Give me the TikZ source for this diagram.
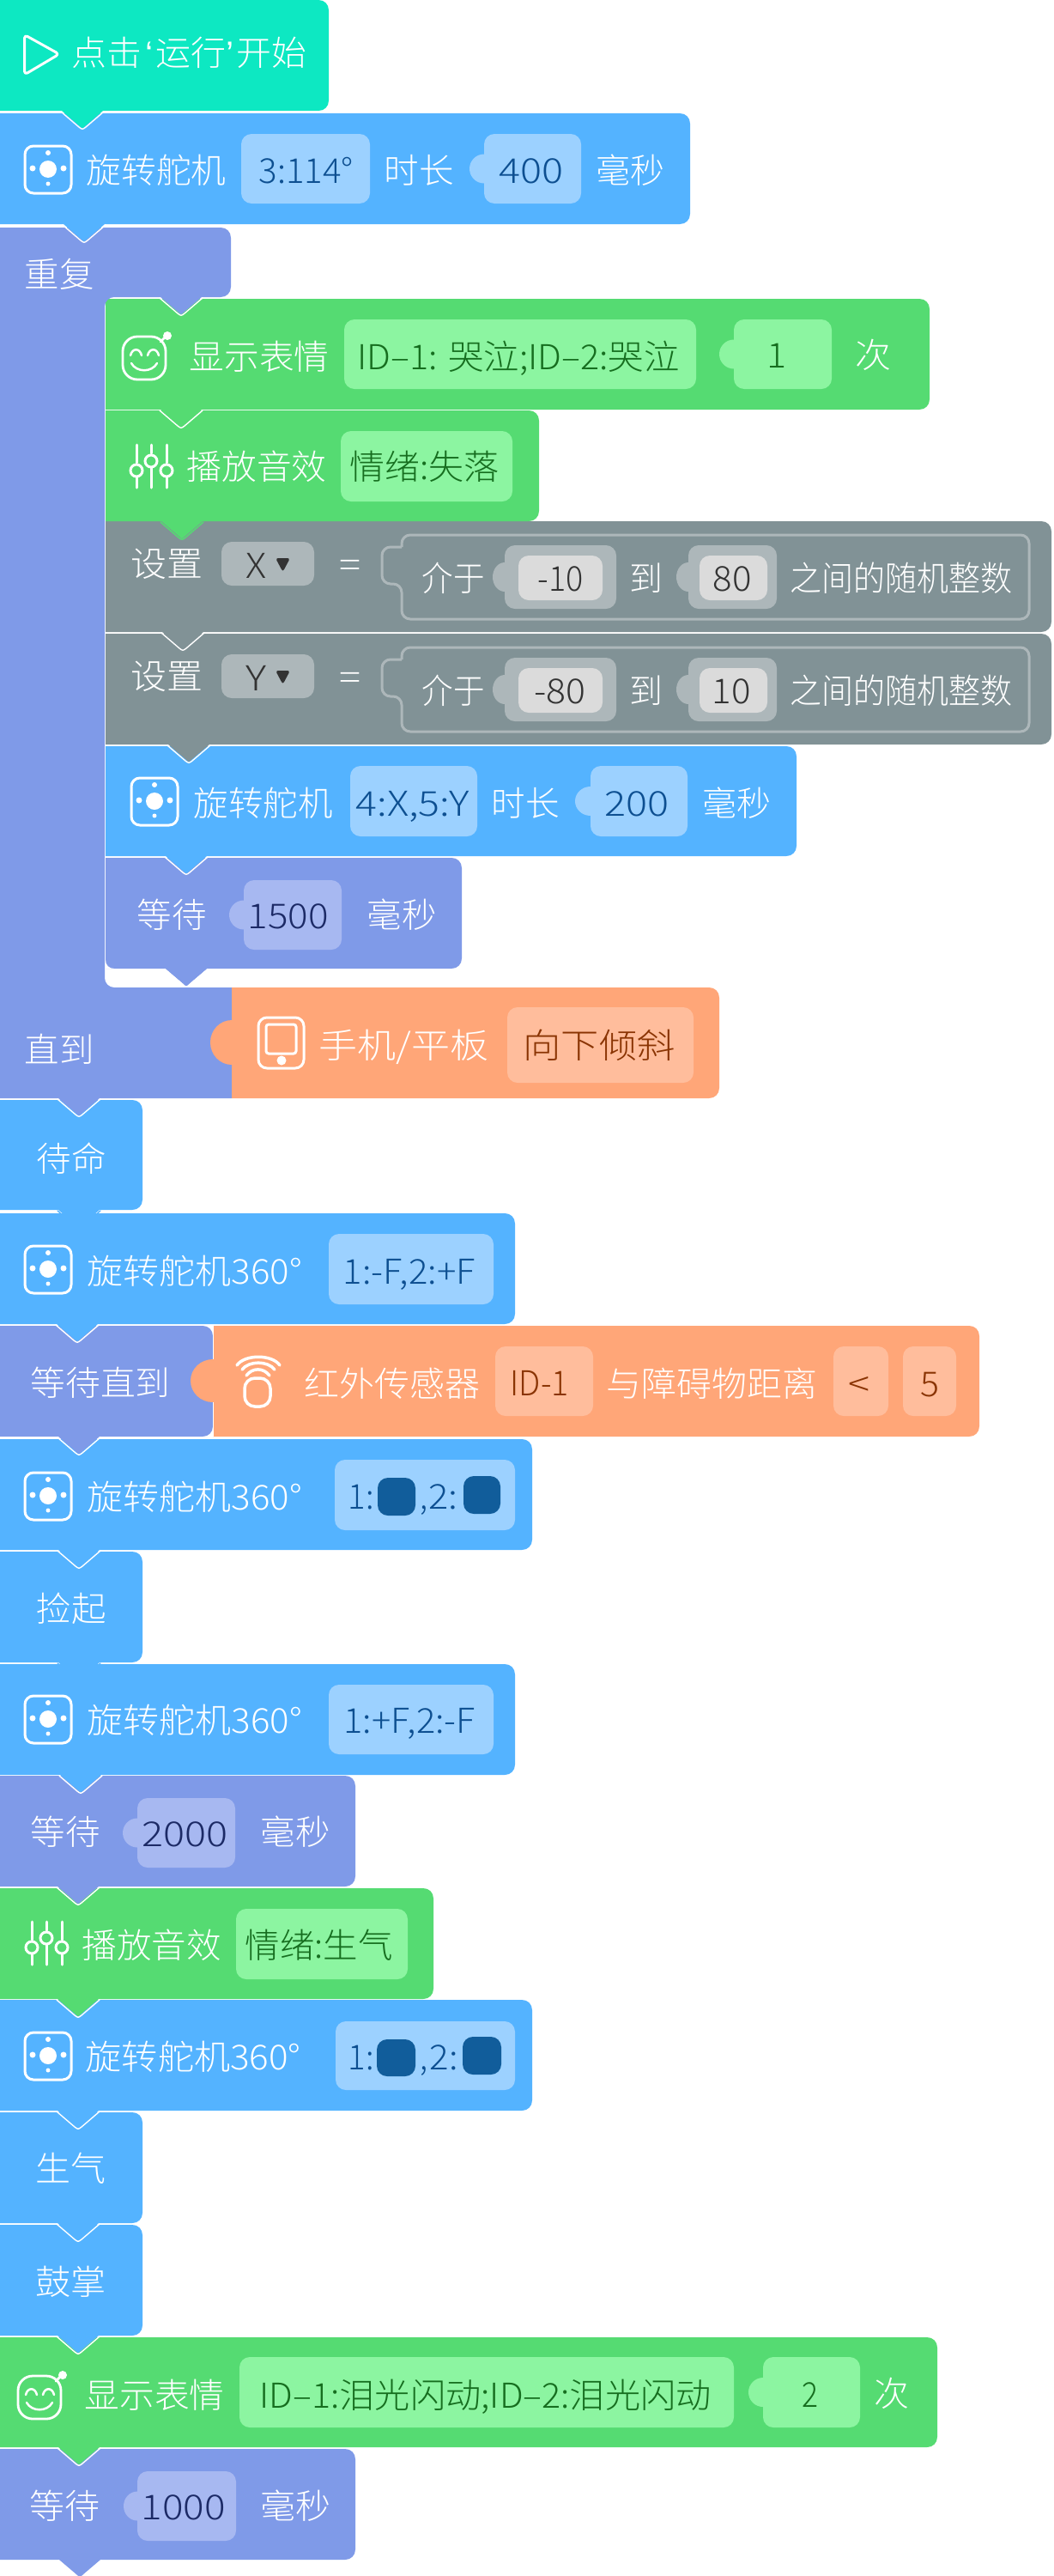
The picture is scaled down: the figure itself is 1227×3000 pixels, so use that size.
\documentclass[tikz,border=0pt]{standalone}
\usepackage{fontspec}
\setmainfont{Noto Sans CJK SC Light}
\newfontfamily\qfont{Liberation Sans}
\definecolor{teal}{HTML}{0DE8C2}
\definecolor{bl}{HTML}{54B3FF}\definecolor{blp}{HTML}{9CD1FF}\definecolor{blt}{HTML}{0D4F91}\definecolor{bls}{HTML}{115D9B}
\definecolor{gr}{HTML}{55DB72}\definecolor{grp}{HTML}{8CF5A1}\definecolor{grt}{HTML}{166E1F}
\definecolor{pu}{HTML}{7F9AE8}\definecolor{pup}{HTML}{A7B8F1}\definecolor{put}{HTML}{1C2A66}
\definecolor{or}{HTML}{FFA678}\definecolor{orp}{HTML}{FFBD9C}\definecolor{ort}{HTML}{8A3403}
\definecolor{gy}{HTML}{819296}\definecolor{gyp}{HTML}{ADB7BA}\definecolor{gyi}{HTML}{DBDBDB}\definecolor{gyt}{HTML}{333333}
\newcounter{tx}
\newsavebox\tbox
\newdimen\twd
% text fitted between x1 and x2 at centre height yc
\newcommand\T[5]{\stepcounter{tx}%
  \node[anchor=base west,inner sep=0pt,text=#4,font=\fontsize{40}{48}\selectfont] (t\thetx) at (#1-1.5,#3+15) {\sbox\tbox{#5}\twd=\wd\tbox\pgfmathsetmacro\fsc{(#2-#1+3)/\twd}\scalebox{\fsc}[1]{#5}};}
% V-outline of a notch
\newcommand\nV[3]{\draw[#3,line width=1.4pt,line cap=round] (#1-25,#2+1) -- (#1-4,#2+19) .. controls (#1,#2+22) .. (#1+4,#2+19) -- (#1+25,#2+1);}
% block x1 y1 x2 y2 colour notchcentre outline
\newcommand\blk[7]{%
  \fill[#5] (#1,#2) -- (#3-12,#2) .. controls (#3-5,#2) and (#3,#2+5) .. (#3,#2+12) -- (#3,#4-12) .. controls (#3,#4-5) and (#3-5,#4) .. (#3-12,#4) -- (#6+24,#4) -- (#6+4,#4+17) .. controls (#6,#4+21) .. (#6-4,#4+17) -- (#6-24,#4) -- (#1,#4) -- cycle;
  \nV{#6}{#4}{#7}}
% block without notch, right corners rounded
\newcommand\rblk[5]{\fill[#5] (#1,#2) -- (#3-12,#2) .. controls (#3-5,#2) and (#3,#2+5) .. (#3,#2+12) -- (#3,#4-12) .. controls (#3,#4-5) and (#3-5,#4) .. (#3-12,#4) -- (#1,#4) -- cycle;}
\newcommand\pill[5]{\fill[#5,rounded corners=12pt] (#1,#2) rectangle (#3,#4);}
\newcommand\npill[6]{\fill[#6] (#2,{(#3+#5)/2}) ellipse [x radius=#2-#1,y radius=17];\pill{#2}{#3}{#4}{#5}{#6}}
\newcommand\servoicon[2]{%
  \draw[white,line width=3pt,rounded corners=10pt] (#1-27,#2-27) rectangle (#1+27,#2+28);
  \fill[white] (#1,#2) circle [radius=10];
  \fill[white] (#1-18,#2-1) circle [radius=3.5];
  \fill[white] (#1+18,#2-1) circle [radius=3.5];
  \fill[white] (#1,#2-19) circle [radius=3];
  \fill[white] (#1,#2+17) circle [radius=2.5];}
\newcommand\faceicon[2]{%
  \draw[white,line width=2.8pt,rounded corners=17pt] (#1,#2) rectangle (#1+50,#2+50);
  \draw[white,line width=2.8pt,line cap=round] (#1+44,#2+6) -- (#1+50,#2);
  \fill[white] (#1+52,#2-1) circle [radius=5];
  \draw[white,line width=2.5pt,line cap=round] (#1+9,#2+22) .. controls (#1+11,#2+13) and (#1+20,#2+13) .. (#1+22,#2+22);
  \draw[white,line width=2.5pt,line cap=round] (#1+29,#2+22) .. controls (#1+31,#2+13) and (#1+40,#2+13) .. (#1+42,#2+22);
  \draw[white,line width=2.5pt,line cap=round] (#1+10,#2+31) .. controls (#1+16,#2+42) and (#1+34,#2+42) .. (#1+40,#2+31);}
\newcommand\soundicon[2]{%
  \begin{scope}[white,line width=3pt,line cap=round]
  \draw (#1,#2) -- (#1,#2+21); \draw (#1,#2+38) -- (#1,#2+50); \draw (#1,#2+30) circle [radius=7];
  \draw (#1+17,#2) -- (#1+17,#2+10); \draw (#1+17,#2+27) -- (#1+17,#2+50); \draw (#1+17,#2+19) circle [radius=7];
  \draw (#1+35,#2) -- (#1+35,#2+21); \draw (#1+35,#2+38) -- (#1+35,#2+50); \draw (#1+35,#2+30) circle [radius=7];
  \end{scope}}
% one grey "set variable" row; #1 = top of the block
\newcommand\greyrow[7]{%
  \T{154}{235}{#1+49}{white}{设置}
  \pill{258}{#1+24}{366}{#1+75}{gyp}
  \T{288}{309}{#1+51}{gyt}{#2}
  \fill[gyt,rounded corners=3pt] (321,#1+43) -- (338,#1+43) -- (329.5,#1+59) -- cycle;
  \T{397}{419}{#1+50}{white}{=}
  \draw[gyp,line width=3pt,rounded corners=10pt] (468,#1+30) -- (468,#1+16) -- (1199,#1+16) -- (1199,#1+114) -- (468,#1+114) -- (468,#1+73) -- (445,#1+73) -- (445,#1+30) -- (468,#1+30);
  \T{493}{563}{#1+66}{white}{介于}
  \npill{574}{588}{#1+28}{718}{#1+102}{gyp}
  \pill{604}{#1+40}{702}{#1+92}{gyi}
  \T{#4}{#5}{#1+66}{gyt}{#3}
  \T{735}{771}{#1+66}{white}{到}
  \npill{788}{802}{#1+28}{905}{#1+102}{gyp}
  \pill{815}{#1+40}{894}{#1+92}{gyi}
  \T{#7}{#7+42}{#1+66}{gyt}{#6}
  \T{922}{1178}{#1+66}{white}{之间的随机整数}}
\begin{document}
\begin{tikzpicture}[x=1pt,y=-1pt]
\useasboundingbox (0,0) rectangle (1227,3000);
\fill[white] (0,0) rectangle (1227,3000);
% ---- blocks, bottom of the stack first
\blk{0}{2852}{414}{2981}{pu}{93}{white}
\blk{0}{2722}{1092}{2850}{gr}{92}{white}
\blk{0}{2591}{166}{2720}{bl}{91}{white}
\blk{0}{2460}{166}{2589}{bl}{91}{white}
\blk{0}{2329}{620}{2458}{bl}{91}{white}
\blk{0}{2199}{505}{2328}{gr}{91}{white}
\blk{0}{2068}{414}{2197}{pu}{91}{white}
\blk{0}{1938}{600}{2067}{bl}{94}{white}
\blk{0}{1807}{166}{1936}{bl}{92}{bl}
\blk{0}{1676}{620}{1805}{bl}{92}{white}
\blk{0}{1544}{248}{1673}{pu}{92}{white}
\rblk{248}{1544}{1141}{1673}{or}
\fill[or] (248,1608) ellipse [x radius=26,y radius=25];
\draw[white,line width=.8pt] (248,1544) -- (248,1583) (248,1633) -- (248,1673);
\blk{0}{1413}{600}{1542}{bl}{90}{white}
\blk{0}{1281}{166}{1409}{bl}{92}{bl}
\blk{123}{999}{538}{1128}{pu}{217}{white}
\fill[white] (123,1118) .. controls (123,1124) and (127,1128) .. (133,1128) -- (123,1128) -- cycle;
\fill[pu] (193,1128) -- (241,1128) -- (221,1145) .. controls (217,1149) .. (213,1145) -- cycle;
\blk{123}{869}{928}{997}{bl}{217}{white}
\blk{123}{738}{1225}{867}{gy}{220}{white}
\blk{123}{607}{1225}{736}{gy}{213}{white}
\blk{123}{478}{628}{607}{gr}{212}{gr}
\blk{123}{348}{1083}{477}{gr}{211}{white}
% the repeat block
\fill[pu] (0,265) -- (257,265) .. controls (264,265) and (269,270) .. (269,277) -- (269,334) .. controls (269,341) and (264,346) .. (257,346) -- (235,346) -- (215,363) .. controls (211,367) .. (207,363) -- (187,346) -- (133,346) .. controls (127,346) and (122,351) .. (122,357) -- (122,1139) .. controls (122,1145) and (127,1150) .. (133,1150) -- (270,1150) -- (270,1279) -- (116,1279) -- (96,1296) .. controls (92,1300) .. (88,1296) -- (68,1279) -- (0,1279) -- cycle;
\nV{211}{346}{white}
\nV{92}{1279}{white}
\rblk{270}{1150}{838}{1279}{or}
\fill[or] (270,1214) ellipse [x radius=25,y radius=26];
\blk{0}{132}{804}{261}{bl}{98}{white}
\blk{0}{0}{383}{129}{teal}{96}{white}
% ---- start
\draw[white,line width=3pt,rounded corners=4pt,line join=round] (28.5,40.5) -- (69,63) -- (28.5,87) -- cycle;
\T{85}{356}{62}{white}{点击\kern4pt{\qfont ‘}\kern3pt 运行{\qfont ’}\kern3pt 开始}
% ---- servo 1
\servoicon{56}{197}
\T{102}{262}{198}{white}{旋转舵机}
\pill{281}{156}{431}{237}{blp}
\T{303}{410}{198}{blt}{3:114°}
\T{449}{527}{198}{white}{时长}
\npill{547}{564}{156}{677}{237}{blp}
\T{583}{655}{198}{blt}{400}
\T{696}{773}{198}{white}{毫秒}
% ---- repeat
\T{30}{108}{319}{white}{重复}
% ---- green 1
\faceicon{143}{392}
\T{222}{382}{415}{white}{显示表情}
\pill{401}{372}{811}{453}{grp}
\T{418}{790}{415}{grt}{ID–1: 哭泣;ID–2:哭泣}
\npill{838}{855}{372}{969}{453}{grp}
\T{895}{915}{413}{grt}{1}
\T{998}{1037}{413}{white}{次}
% ---- green 2
\soundicon{159}{518}
\T{219}{379}{543}{white}{播放音效}
\pill{397}{502}{597}{584}{grp}
\T{409}{580}{543}{grt}{情绪:失落}
% ---- grey rows
\greyrow{607}{X}{-10}{628}{678}{80}{832}
\greyrow{738}{Y}{-80}{624}{681}{10}{831}
% ---- servo 3
\servoicon{180}{933}
\T{227}{386}{935}{white}{旋转舵机}
\pill{408}{892}{556}{974}{blp}
\T{416}{545}{935}{blt}{4:X,5:Y}
\T{574}{650}{935}{white}{时长}
\npill{670}{688}{892}{801}{974}{blp}
\T{706}{778}{935}{blt}{200}
\T{820}{897}{935}{white}{毫秒}
% ---- wait 1500
\T{161}{239}{1065}{white}{等待}
\npill{267}{284}{1025}{398}{1106}{pup}
\T{290}{381}{1066}{put}{1500}
\T{429}{507}{1065}{white}{毫秒}
% ---- until tablet
\T{30}{108}{1222}{white}{直到}
\draw[white,line width=3pt,rounded corners=10pt] (301,1185) rectangle (354,1244);
\draw[white,line width=3pt,rounded corners=3pt] (310,1193) rectangle (345,1227);
\fill[white] (328,1235) circle [radius=5.5];
\T{373}{568}{1217}{white}{手机/平板}
\pill{591}{1173}{808}{1261}{orp}
\T{611}{785}{1217}{ort}{向下倾斜}
% ---- standby
\T{44}{122}{1349}{white}{待命}
% ---- servo 360 a
\servoicon{56}{1478}
\T{103}{350}{1480}{white}{旋转舵机360°}
\pill{383}{1437}{575}{1519}{blp}
\T{401}{552}{1480}{blt}{1:-F,2:+F}
% ---- wait until IR
\T{37}{197}{1610}{white}{等待直到}
\begin{scope}[white,line width=3.5pt,line cap=round]
\draw[rounded corners=12pt] (285,1605) rectangle (315,1638);
\draw (276,1590) .. controls (285,1577) and (317,1577) .. (326,1590);
\draw (282,1595) .. controls (290,1584.5) and (312,1584.5) .. (320,1595);
\draw (287,1602) .. controls (294,1592.5) and (307,1592.5) .. (314,1602);
\end{scope}
\T{356}{558}{1611}{white}{红外传感器}
\pill{577}{1568}{691}{1649}{orp}
\T{596}{661}{1610}{ort}{ID-1}
\T{708}{951}{1611}{white}{与障碍物距离}
\pill{971}{1568}{1035}{1649}{orp}
\T{990}{1012}{1611}{ort}{<}
\pill{1052}{1568}{1114}{1649}{orp}
\T{1074}{1093}{1611}{ort}{5}
% ---- servo 360 b
\servoicon{56}{1742}
\T{103}{350}{1743}{white}{旋转舵机360°}
\pill{390}{1700}{600}{1782}{blp}
\T{407}{434}{1742}{blt}{1:}
\pill{440}{1721}{484}{1765}{bls}
\T{491}{497}{1742}{blt}{,}
\T{501}{532}{1742}{blt}{2:}
\pill{540}{1719}{583}{1763}{bls}
% ---- pick up
\T{44}{122}{1873}{white}{捡起}
% ---- servo 360 c
\servoicon{56}{2002}
\T{103}{350}{2003}{white}{旋转舵机360°}
\pill{383}{1962}{575}{2043}{blp}
\T{402}{552}{2003}{blt}{1:+F,2:-F}
% ---- wait 2000
\T{37}{115}{2133}{white}{等待}
\npill{143}{160}{2094}{274}{2175}{pup}
\T{167}{264}{2135}{put}{2000}
\T{305}{383}{2133}{white}{毫秒}
% ---- sound
\soundicon{37}{2238}
\T{97}{256}{2265}{white}{播放音效}
\pill{275}{2223}{475}{2305}{grp}
\T{287}{456}{2265}{grt}{情绪:生气}
% ---- servo 360 d
\servoicon{56}{2394}
\T{101}{349}{2395}{white}{旋转舵机360°}
\pill{391}{2354}{600}{2434}{blp}
\T{407}{434}{2395}{blt}{1:}
\pill{439}{2375}{484}{2418}{bls}
\T{491}{497}{2395}{blt}{,}
\T{502}{532}{2395}{blt}{2:}
\pill{539}{2372}{584}{2416}{bls}
% ---- two words
\T{43}{122}{2525}{white}{生气}
\T{43}{122}{2657}{white}{鼓掌}
% ---- emotion 2
\faceicon{21}{2767}
\T{100}{260}{2789}{white}{显示表情}
\pill{279}{2745}{855}{2827}{grp}
\T{304}{827}{2789}{grt}{ID–1:泪光闪动;ID–2:泪光闪动}
\npill{872}{889}{2745}{1002}{2827}{grp}
\T{936}{952}{2788}{grt}{2}
\T{1020}{1058}{2787}{white}{次}
% ---- wait 1000
\T{36}{115}{2918}{white}{等待}
\npill{144}{160}{2878}{275}{2959}{pup}
\T{166}{261}{2919}{put}{1000}
\T{305}{384}{2918}{white}{毫秒}
\end{tikzpicture}
\end{document}
